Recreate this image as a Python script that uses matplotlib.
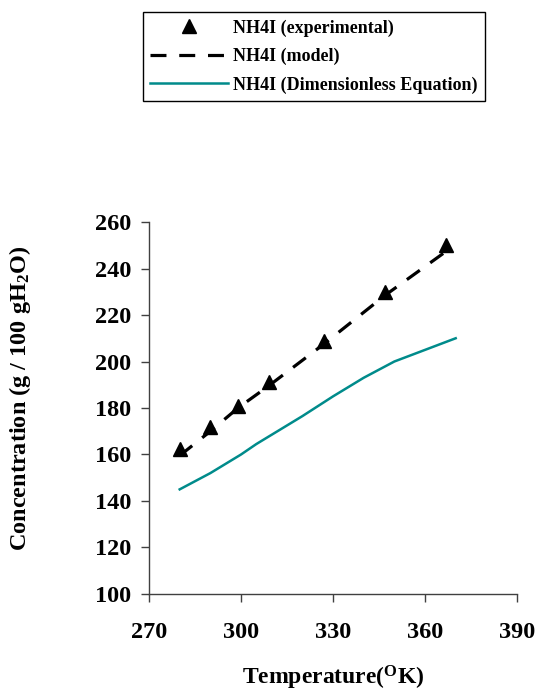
import matplotlib
matplotlib.use("Agg")
import matplotlib.pyplot as plt

plt.rcParams['font.family'] = ['Liberation Serif', 'DejaVu Serif']
plt.rcParams['font.weight'] = 'bold'
plt.rcParams['mathtext.fontset'] = 'custom'
plt.rcParams['mathtext.rm'] = 'Liberation Serif:bold'
plt.rcParams['mathtext.it'] = 'Liberation Serif:bold'
plt.rcParams['mathtext.bf'] = 'Liberation Serif:bold'
plt.rcParams['mathtext.default'] = 'rm'

# Experimental data
exp_T = [280, 290, 299, 309, 327, 347, 367]
exp_C = [162.5, 172, 181, 191, 209, 230, 250]

# Model
model_T = [280, 290, 299, 309, 327, 347, 367]
model_C = [159.5, 170, 180, 189.5, 207.5, 228.5, 247.5]

# Dimensionless equation
dim_T = [280, 290, 300, 305, 310, 320, 330, 340, 350, 360, 370]
dim_C = [145, 152, 160, 164.5, 168.5, 176.5, 185, 193, 200, 205, 210]

xticks = [270, 300, 330, 360, 390]
yticks = [100, 120, 140, 160, 180, 200, 220, 240, 260]

fig = plt.figure(figsize=(5.38, 6.91), dpi=100)
ax = fig.add_axes([0.277, 0.1404, 0.684, 0.5383])

l1, = ax.plot(exp_T, exp_C, linestyle='none', marker='^', color='black', markersize=10.5,
              label='NH4I (experimental)', zorder=3)
l2, = ax.plot(model_T, model_C, linestyle=(0, (5, 4)), color='black', linewidth=2.3,
              label='NH4I (model)', zorder=2)
l3, = ax.plot(dim_T, dim_C, color='#008B8B', linewidth=1.8,
              label='NH4I (Dimensionless Equation)', zorder=1)

ax.set_xlim(270, 390)
ax.set_ylim(100, 260)
ax.set_xticks(xticks)
ax.set_yticks(yticks)
ax.spines['top'].set_visible(False)
ax.spines['right'].set_visible(False)
for s in ['left', 'bottom']:
    ax.spines[s].set_color('#404040')
    ax.spines[s].set_linewidth(1.0)
ax.tick_params(axis='both', direction='out', length=6, width=1, color='#404040',
               labelsize=17.5)
ax.tick_params(axis='x', pad=14)
ax.tick_params(axis='y', pad=7)
for lab in ax.get_xticklabels() + ax.get_yticklabels():
    lab.set_fontweight('bold')

ax.set_xlabel('Temperature($^{\\mathrm{O}}$K)', fontsize=17, fontweight='bold')
ax.set_ylabel('Concentration (g / 100 gH$_2$O)', fontsize=17.5, fontweight='bold')
ax.xaxis.set_label_coords(0.501, -0.188)
ax.yaxis.set_label_coords(-0.315, 0.525)

leg = fig.legend(handles=[l1, l2, l3], loc='upper left',
                 bbox_to_anchor=(143/538, 1 - 12/691), frameon=True, fancybox=False,
                 edgecolor='black', framealpha=1, prop={'family': 'Liberation Serif',
                 'weight': 'bold', 'size': 13}, handlelength=4.3, handletextpad=0.3,
                 borderpad=0.4, labelspacing=0.62, borderaxespad=0)
leg.get_frame().set_linewidth(1.0)

fig.savefig('out.png', dpi=100)
